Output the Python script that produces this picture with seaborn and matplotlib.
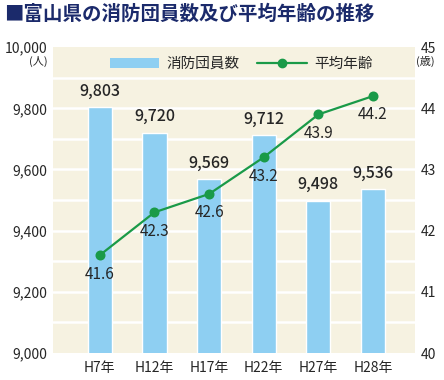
import numpy as np
import pandas as pd
import matplotlib.pyplot as plt
import seaborn as sns
from matplotlib.patches import Patch
from matplotlib.lines import Line2D

sns.set_style('white')
plt.rcParams['font.family'] = ['Noto Sans CJK JP', 'DejaVu Sans']

years = ['H7年', 'H12年', 'H17年', 'H22年', 'H27年', 'H28年']
members = [9803, 9720, 9569, 9712, 9498, 9536]
ages = [41.6, 42.3, 42.6, 43.2, 43.9, 44.2]

bar_color = '#8ecff2'
line_color = '#1a9a48'
bg = '#f6f2e1'
navy = '#1b2a6b'

df = pd.DataFrame({'year': years, 'members': members, 'age': ages})

fig = plt.figure(figsize=(4.44, 3.80), dpi=100)
ax = fig.add_axes([0.119, 0.071, 0.816, 0.805])
ax.set_facecolor(bg)

sns.barplot(data=df, x='year', y='members', color=bar_color, width=0.44,
            saturation=1, ax=ax, zorder=2)
ax.set_ylim(9000, 10000)
ax.set_yticks(np.arange(9000, 10001, 200))
ax.set_yticklabels([f'{v:,}' for v in range(9000, 10001, 200)])
for y in range(9100, 10000, 100):
    ax.axhline(y, color='white', lw=1.8, zorder=1)
for i, v in enumerate(members):
    ax.text(i, v + 25, f'{v:,}', ha='center', va='bottom', fontsize=11.5,
            fontweight='medium', zorder=5)

ax2 = ax.twinx()
sns.pointplot(data=df, x='year', y='age', color=line_color, ax=ax2,
              markers='o', markersize=6, linewidth=1.6, zorder=4)
ax2.set_ylim(40, 45)
ax2.set_yticks(range(40, 46))
for i, v in enumerate(ages):
    ax2.text(i, v - 0.17, f'{v}', ha='center', va='top', fontsize=11, zorder=5)

ax.set_xlim(-0.86, 5.77)
ax2.set_xlim(-0.86, 5.77)
ax.set_xlabel('')
ax.set_ylabel('')
ax2.set_xlabel('')
ax2.set_ylabel('')
for a in (ax, ax2):
    for s in a.spines.values():
        s.set_visible(False)
    a.tick_params(length=0, labelsize=10, pad=4)
ax.tick_params(axis='x', pad=6)

fig.text(0.107, 0.838, '(人)', ha='right', va='center', fontsize=8)
fig.text(0.937, 0.838, '(歳)', ha='left', va='center', fontsize=8)

handles = [Patch(facecolor=bar_color, edgecolor='none'),
           Line2D([0], [0], color=line_color, lw=1.6, marker='o', markersize=6)]
ax2.legend(handles, ['消防団員数', '平均年齢'], ncol=2, frameon=False,
           loc='upper center', bbox_to_anchor=(0.52, 1.01), fontsize=10.5,
           handlelength=3.4, handleheight=0.6, columnspacing=1.2,
           handletextpad=0.5)

fig.text(0.01, 0.962, '■富山県の消防団員数及び平均年齢の推移', ha='left', va='center',
         fontsize=14, fontweight='bold', color=navy)

fig.savefig('out.png', dpi=100)
